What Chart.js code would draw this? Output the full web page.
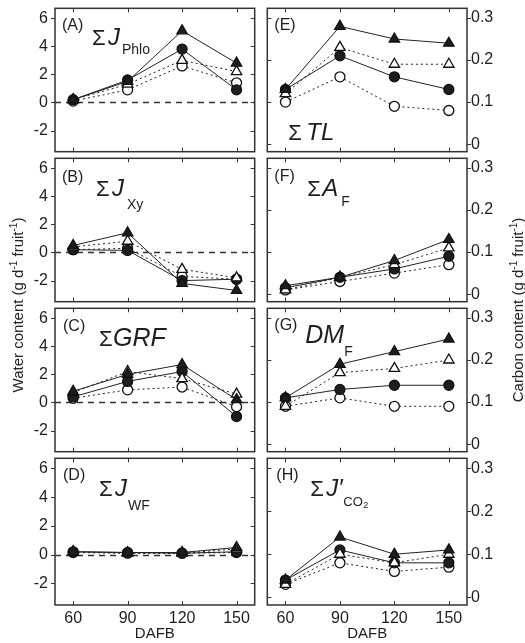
<!DOCTYPE html>
<html>
<head>
<meta charset="utf-8">
<script src="https://cdn.jsdelivr.net/npm/chart.js@4.4.1/dist/chart.umd.min.js"></script>
<style>
  body { margin: 0; background: #fff; }
  #wrap { position: relative; width: 525px; height: 643px; overflow: hidden; font-family: "Liberation Sans", Arial, sans-serif; }
  canvas { position: absolute; }
  .ytitle { position: absolute; width: 300px; line-height: 18px; text-align: center; font-size: 15px; color: #222; transform: rotate(-90deg); white-space: nowrap; }
  .ytitle sup { font-size: 10px; line-height: 0; }
</style>
</head>
<body>
<div id="wrap">
  <canvas id="pA" width="262" height="158" style="left:0;top:1px"></canvas>
  <canvas id="pB" width="262" height="158" style="left:0;top:151px"></canvas>
  <canvas id="pC" width="262" height="158" style="left:0;top:301px"></canvas>
  <canvas id="pD" width="262" height="192" style="left:0;top:451px"></canvas>
  <canvas id="pE" width="265" height="158" style="left:260px;top:1px"></canvas>
  <canvas id="pF" width="265" height="158" style="left:260px;top:151px"></canvas>
  <canvas id="pG" width="265" height="158" style="left:260px;top:301px"></canvas>
  <canvas id="pH" width="265" height="192" style="left:260px;top:451px"></canvas>
  <div class="ytitle" style="left:-132px;top:296px">Water content (g d<sup>-1</sup> fruit<sup>-1</sup>)</div>
  <div class="ytitle" style="left:368px;top:301px">Carbon content (g d<sup>-1</sup> fruit<sup>-1</sup>)</div>
</div>
<script>
// x positions (days after full bloom)
const dafb = [60, 90, 120, 150];
const waterTicks = [-2, 0, 2, 4, 6];
const carbonTicks = [0, 0.1, 0.2, 0.3];

// each panel: [filled triangle, open triangle, filled circle, open circle]
const jPhlo = [[0.2, 1.5, 5.1, 2.8], [0.2, 1.3, 3.0, 2.2], [0.2, 1.6, 3.8, 0.9], [0.1, 0.9, 2.6, 1.4]];
const jXy   = [[0.5, 1.4, -2.2, -2.7], [0.4, 0.8, -1.2, -1.8], [0.2, 0.15, -2.0, -1.9], [0.2, 0.3, -1.7, -1.9]];
const grf   = [[0.8, 2.0, 2.7, 0.2], [0.7, 2.2, 1.7, 0.6], [0.4, 1.5, 2.2, -1.0], [0.3, 0.9, 1.1, -0.3]];
const jWF   = [[0.2, 0.15, 0.15, 0.5], [0.2, 0.1, 0.1, 0.4], [0.2, 0.15, 0.1, 0.2], [0.15, 0.1, 0.1, 0.15]];
const tl    = [[0.13, 0.28, 0.25, 0.24], [0.12, 0.23, 0.19, 0.19], [0.13, 0.21, 0.16, 0.13], [0.10, 0.16, 0.09, 0.08]];
const aF    = [[0.02, 0.04, 0.08, 0.13], [0.01, 0.04, 0.07, 0.11], [0.015, 0.04, 0.06, 0.09], [0.01, 0.03, 0.05, 0.07]];
const dmF   = [[0.11, 0.19, 0.22, 0.25], [0.09, 0.17, 0.18, 0.20], [0.11, 0.13, 0.14, 0.14], [0.09, 0.11, 0.09, 0.09]];
const jCO2  = [[0.04, 0.14, 0.10, 0.11], [0.03, 0.10, 0.08, 0.10], [0.04, 0.11, 0.08, 0.08], [0.03, 0.08, 0.06, 0.07]];

const FONT = '"Liberation Sans", Arial, sans-serif';
const INK = '#1e1e1e';

const marks = [
  { style: 'triangle', fill: INK, dash: [], r: 6 },
  { style: 'triangle', fill: '#fff', dash: [2, 3], r: 6 },
  { style: 'circle', fill: INK, dash: [], r: 5 },
  { style: 'circle', fill: '#fff', dash: [2, 3], r: 5 }
];

// frame, ticks and dashed zero line
const framePlugin = {
  id: 'frame',
  beforeDatasetsDraw(chart, args, opts) {
    if (!opts.zero) return;
    const { ctx, chartArea: a, scales: { y } } = chart;
    const yy = Math.round(y.getPixelForValue(0)) + 0.5;
    ctx.save();
    ctx.strokeStyle = '#333';
    ctx.lineWidth = 1.5;
    ctx.setLineDash([6, 5]);
    ctx.beginPath();
    ctx.moveTo(a.left, yy);
    ctx.lineTo(a.right, yy);
    ctx.stroke();
    ctx.restore();
  },
  afterDraw(chart, args, opts) {
    const { ctx, chartArea: a, scales: { x, y } } = chart;
    ctx.save();
    ctx.strokeStyle = '#333';
    ctx.lineWidth = 1.5;
    ctx.strokeRect(a.left, a.top, a.right - a.left, a.bottom - a.top);
    ctx.lineWidth = 1;
    ctx.beginPath();
    x.ticks.forEach(t => {
      const px = Math.round(x.getPixelForValue(t.value)) + 0.5;
      ctx.moveTo(px, a.top); ctx.lineTo(px, a.top + 4);
      ctx.moveTo(px, a.bottom); ctx.lineTo(px, a.bottom - 4);
    });
    y.ticks.forEach(t => {
      const py = Math.round(y.getPixelForValue(t.value)) + 0.5;
      if (opts.left) {
        ctx.moveTo(a.left - 4, py); ctx.lineTo(a.left, py);
        ctx.moveTo(a.right, py); ctx.lineTo(a.right - 4, py);
      } else {
        ctx.moveTo(a.left, py); ctx.lineTo(a.left + 4, py);
        ctx.moveTo(a.right, py); ctx.lineTo(a.right + 4, py);
      }
    });
    ctx.stroke();
    ctx.restore();
  }
};

// panel letters and variable names
const labelPlugin = {
  id: 'panelLabel',
  afterDraw(chart, args, opts) {
    const { ctx, chartArea: a } = chart;
    ctx.save();
    ctx.fillStyle = INK;
    ctx.textBaseline = 'alphabetic';
    opts.runs.forEach(([text, dx, dy, size, italic]) => {
      ctx.font = (italic ? 'italic ' : '') + size + 'px ' + FONT;
      ctx.fillText(text, a.left + dx, a.top + dy);
    });
    ctx.restore();
  }
};

function panel(id, values, left, bottom, runs) {
  const datasets = values.map((v, i) => ({
    data: v.map((val, j) => ({ x: dafb[j], y: val })),
    borderColor: '#222',
    borderWidth: 1,
    borderDash: marks[i].dash,
    pointStyle: marks[i].style,
    pointRadius: marks[i].r,
    pointBackgroundColor: marks[i].fill,
    pointBorderColor: '#111',
    pointBorderWidth: 1.3,
    tension: 0,
    fill: false
  }));

  const yTicks = left ? waterTicks : carbonTicks;

  new Chart(document.getElementById(id), {
    type: 'line',
    data: { datasets },
    options: {
      responsive: false,
      animation: false,
      layout: { padding: { top: 4, bottom: bottom ? 0 : 4, left: left ? 0 : 6, right: left ? 6 : 0 } },
      plugins: {
        legend: { display: false },
        tooltip: { enabled: false },
        frame: { zero: left, left: left },
        panelLabel: { runs: runs }
      },
      scales: {
        x: {
          type: 'linear',
          min: 50,
          max: 160,
          display: bottom,
          afterBuildTicks: s => { s.ticks = dafb.map(v => ({ value: v })); },
          afterFit: s => { s.height = bottom ? 38 : 0; s.paddingLeft = 0; s.paddingRight = 0; },
          grid: { display: false, drawTicks: false },
          border: { display: false },
          ticks: { font: { family: FONT, size: 16 }, color: INK, padding: 4, maxRotation: 0 },
          title: { display: true, text: 'DAFB', font: { family: FONT, size: 15 }, color: INK, padding: { top: 0, bottom: 0 } }
        },
        y: {
          type: 'linear',
          position: left ? 'left' : 'right',
          min: left ? -3.5 : -0.018,
          max: left ? 6.7 : 0.323,
          afterBuildTicks: s => { s.ticks = yTicks.map(v => ({ value: v })); },
          afterFit: s => { s.width = left ? 55 : 58; s.paddingTop = 0; s.paddingBottom = 0; },
          grid: { display: false, drawTicks: false },
          border: { display: false },
          ticks: { font: { family: FONT, size: 16 }, color: INK, padding: left ? 7 : 4, callback: v => String(v) }
        }
      }
    },
    plugins: [framePlugin, labelPlugin]
  });
}

panel('pA', jPhlo, true, false, [['(A)', 7, 22, 16], ['\u03A3', 37, 37, 22], ['J', 53, 37, 24, true], ['Phlo', 67, 46, 14]]);
panel('pB', jXy, true, false, [['(B)', 7, 24, 16], ['\u03A3', 41, 38, 22], ['J', 57, 38, 24, true], ['Xy', 72, 51, 14]]);
panel('pC', grf, true, false, [['(C)', 8, 23, 16], ['\u03A3', 44, 38, 22], ['GRF', 58, 38, 25, true]]);
panel('pD', jWF, true, true, [['(D)', 8, 22, 16], ['\u03A3', 44, 38, 22], ['J', 60, 38, 24, true], ['WF', 73, 52, 14]]);
panel('pE', tl, false, false, [['(E)', 7, 22, 16], ['\u03A3', 21, 132, 22], ['TL', 39, 132, 24, true]]);
panel('pF', aF, false, false, [['(F)', 7, 23, 16], ['\u03A3', 40, 38, 22], ['A', 55, 38, 24, true], ['F', 74, 48, 14]]);
panel('pG', dmF, false, false, [['(G)', 7, 22, 16], ['DM', 38, 35, 25, true], ['F', 77, 48, 14]]);
panel('pH', jCO2, false, true, [['(H)', 9, 22, 16], ['\u03A3', 43, 38, 22], ['J\u2032', 59, 38, 24, true], ['CO', 76, 48, 13], ['2', 96, 50, 9]]);
</script>
</body>
</html>
